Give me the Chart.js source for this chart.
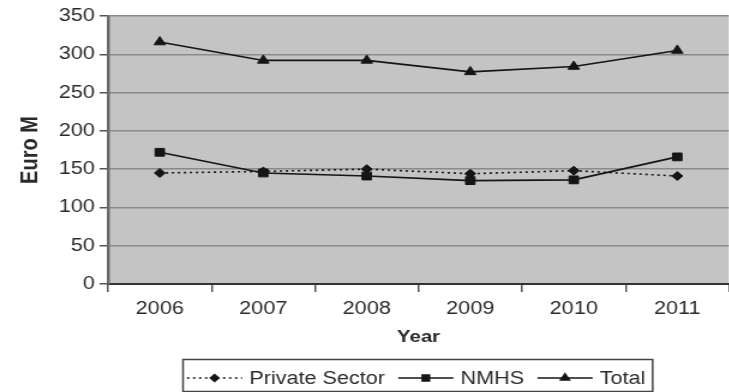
<!DOCTYPE html>
<html><head><meta charset="utf-8">
<script src="https://cdn.jsdelivr.net/npm/chart.js@4/dist/chart.umd.min.js"></script>
<style>
html,body{margin:0;padding:0;background:#fff;overflow:hidden;width:729px;height:392px;}
#wrap{position:absolute;left:0;top:0;width:614px;height:392px;transform:scaleX(1.2);transform-origin:0 0;}
canvas{display:block;}
</style></head><body>
<div id="wrap"><canvas id="c" width="614" height="392"></canvas></div>
<script>
// Spending by sector, Euro M
const years = ['2006', '2007', '2008', '2009', '2010', '2011'];
const privateSector = [145, 147, 150, 144, 148, 141];
const nmhs = [172, 145, 141, 135, 136, 166];
const total = [316, 292, 292, 277, 284, 305];
const yTicks = [0, 50, 100, 150, 200, 250, 300, 350];

const FONT = "'Liberation Sans', Arial, sans-serif";
const INK = '#151515';
const TEXT = '#2a2a2a';

// grey plot background
const plotBg = {
  id: 'plotBg',
  beforeDraw(chart) {
    const a = chart.chartArea, ctx = chart.ctx;
    ctx.save();
    ctx.fillStyle = '#c4c4c4';
    ctx.fillRect(a.left, a.top, a.right - a.left, a.bottom - a.top);
    ctx.restore();
  }
};

// boxed legend with line + marker samples
const boxLegend = {
  id: 'boxLegend',
  afterDraw(chart) {
    const ctx = chart.ctx;
    const boxL = 152.5, boxT = 359.5, boxB = 391.5;
    const y = 378;
    ctx.save();
    ctx.font = '18px ' + FONT;
    ctx.textBaseline = 'middle';
    let x = boxL + 3.3;
    let end = x;
    chart.data.datasets.forEach(ds => {
      const len = 46;
      ctx.strokeStyle = ds.borderColor;
      ctx.lineWidth = ds.borderWidth;
      ctx.setLineDash(ds.borderDash || []);
      ctx.beginPath();
      ctx.moveTo(x, y);
      ctx.lineTo(x + len, y);
      ctx.stroke();
      ctx.setLineDash([]);
      ctx.fillStyle = ds.pointBackgroundColor;
      ctx.strokeStyle = ds.pointBorderColor;
      Chart.helpers.drawPoint(ctx, {pointStyle: ds.pointStyle, radius: ds.pointRadius * 0.75, rotation: 0, borderWidth: 1}, x + len / 2, y);
      x += len + 6;
      ctx.fillStyle = TEXT;
      ctx.fillText(ds.label, x, y + 1);
      x += ctx.measureText(ds.label).width;
      end = x;
      x += 11;
    });
    ctx.strokeStyle = '#444';
    ctx.lineWidth = 1.5;
    ctx.strokeRect(boxL, boxT, end + 6 - boxL, boxB - boxT);
    ctx.restore();
  }
};

const series = (label, data, style, radius, dash) => ({
  label, data,
  borderColor: INK, borderWidth: 1.6, borderDash: dash,
  pointStyle: style, pointRadius: radius, pointHoverRadius: radius,
  pointBackgroundColor: INK, pointBorderColor: INK, pointBorderWidth: 1,
  tension: 0, fill: false
});

new Chart(document.getElementById('c'), {
  type: 'line',
  data: {
    labels: years,
    datasets: [
      series('Private Sector', privateSector, 'rectRot', 4.5, [2, 3]),
      series('NMHS', nmhs, 'rect', 5.5, []),
      series('Total', total, 'triangle', 5.5, [])
    ]
  },
  options: {
    responsive: false,
    animation: false,
    layout: {padding: {top: 16, right: 0, bottom: 38, left: 0}},
    plugins: {legend: {display: false}, tooltip: {enabled: false}},
    scales: {
      x: {
        type: 'category',
        offset: true,
        grid: {offset: true, drawOnChartArea: false, drawTicks: true, tickLength: 8, tickColor: '#555', lineWidth: 1.5},
        border: {color: '#333', width: 2},
        ticks: {color: TEXT, font: {family: FONT, size: 18}, padding: 6, maxRotation: 0},
        title: {display: true, text: 'Year', color: TEXT, font: {family: FONT, size: 17, weight: 'bold'}, padding: {top: 0, bottom: 6}},
        afterFit(s) { s.height = 70; }
      },
      y: {
        min: 0, max: 350,
        afterBuildTicks(s) { s.ticks = yTicks.map(v => ({value: v})); },
        grid: {color: '#8a8a8a', lineWidth: 1.5, tickLength: 7, tickColor: '#555'},
        border: {color: '#6a6a6a', width: 2.5},
        ticks: {color: TEXT, font: {family: FONT, size: 18}, padding: 4},
        title: {display: true, text: 'Euro M', color: TEXT, font: {family: FONT, size: 20, weight: 'bold'}, padding: {top: 13, bottom: 0}},
        afterFit(s) { s.width = 90; }
      }
    }
  },
  plugins: [plotBg, boxLegend]
});
</script>
</body></html>
